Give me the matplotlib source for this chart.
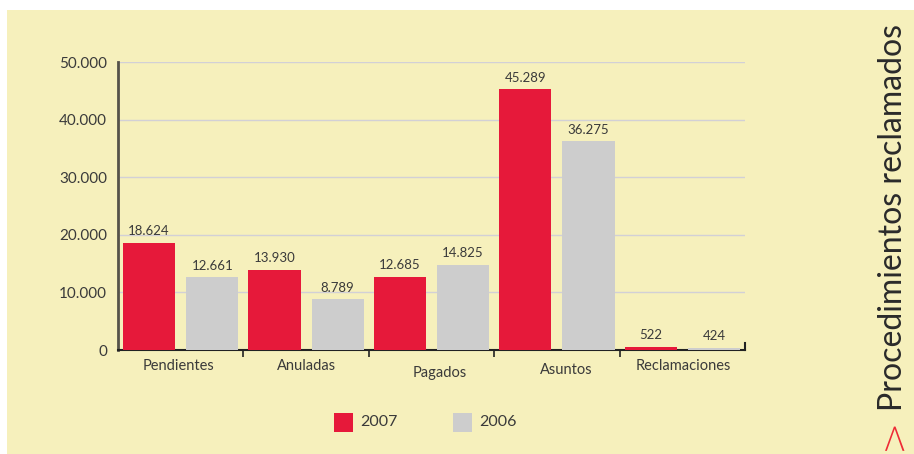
import matplotlib
matplotlib.use("Agg")
import matplotlib.pyplot as plt
from matplotlib.patches import Rectangle
import matplotlib.transforms as mtransforms

categories = ["Pendientes", "Anuladas", "Pagados", "Asuntos", "Reclamaciones"]
values_2007 = [18624, 13930, 12685, 45289, 522]
values_2006 = [12661, 8789, 14825, 36275, 424]
series_labels = ["2007", "2006"]
y_ticks = [0, 10000, 20000, 30000, 40000, 50000]
y_tick_labels = ["0", "10.000", "20.000", "30.000", "40.000", "50.000"]

BG = "#F6F0BC"
RED = "#E6193A"
GREY = "#CDCDCD"
TXT = "#3a3a3a"
FONT = "Lato"

def fmt(v):
    return f"{v:,}".replace(",", ".")

fig = plt.figure(figsize=(9.14, 4.54), dpi=100)
fig.patch.set_facecolor("white")
fig.patches.append(Rectangle((7/914, 0), 1 - 7/914, 1 - 10/454,
                             transform=fig.transFigure, facecolor=BG,
                             edgecolor="none", zorder=-10))

ax = fig.add_axes([118/914, (454-350)/454, 627/914, 288/454])
ax.set_facecolor("none")
ax.set_xlim(0, 5)
ax.set_ylim(0, 50000)

w = 0.416
x_red = [i + 0.248 for i in range(len(categories))]
x_grey = [i + 0.752 for i in range(len(categories))]
ax.bar(x_red, values_2007, width=w, color=RED, zorder=3)
ax.bar(x_grey, values_2006, width=w, color=GREY, zorder=3)

for x, v in zip(x_red, values_2007):
    ax.annotate(fmt(v), (x, v), xytext=(0, 4), textcoords="offset points",
                ha="center", va="bottom", fontsize=9.5, color=TXT, family=FONT)
for x, v in zip(x_grey, values_2006):
    ax.annotate(fmt(v), (x, v), xytext=(0, 4), textcoords="offset points",
                ha="center", va="bottom", fontsize=9.5, color=TXT, family=FONT)

# grid
for t in y_ticks[1:]:
    ax.axhline(t, color="#D2D0D6", lw=1, zorder=1)

ax.set_yticks(y_ticks)
ax.set_yticklabels(y_tick_labels, fontsize=11, color=TXT, family=FONT)
ax.tick_params(axis="y", length=0, pad=8)
ax.set_xticks([1, 2, 3, 4])
ax.set_xticklabels([])
ax.tick_params(axis="x", direction="out", length=5, width=1.2, color="#222222")

for s in ["top", "right"]:
    ax.spines[s].set_visible(False)
ax.spines["left"].set_color("#55524a")
ax.spines["left"].set_linewidth(2)
ax.spines["bottom"].set_color("#222222")
ax.spines["bottom"].set_linewidth(1.5)
# end tick pointing up
ax.plot([5, 5], [0, 1300], color="#222222", lw=1.5, clip_on=False, zorder=4)

# category labels (slightly staggered as in reference)
label_dx = [-2, 0, 8, 9, 1]      # pixels
label_dy = [-9, -9, -16, -13, -9]  # pixels
for i, (c, dx, dy) in enumerate(zip(categories, label_dx, label_dy)):
    tr = mtransforms.offset_copy(ax.transData, fig=fig, x=dx, y=dy, units="dots")
    ax.text(i + 0.5, 0, c, transform=tr, ha="center", va="top",
            fontsize=10.5, color=TXT, family=FONT)

# legend
fig.patches.append(Rectangle((334/914, 1 - 432/454), 19/914, 19/454,
                             transform=fig.transFigure, facecolor=RED, edgecolor="none"))
fig.patches.append(Rectangle((453/914, 1 - 432/454), 19/914, 19/454,
                             transform=fig.transFigure, facecolor=GREY, edgecolor="none"))
fig.text(360/914, 1 - 422/454, series_labels[0], ha="left", va="center",
         fontsize=11.5, color=TXT, family=FONT)
fig.text(479/914, 1 - 422/454, series_labels[1], ha="left", va="center",
         fontsize=11.5, color=TXT, family=FONT)

# side title
fig.text(893/914, 1 - 411/454, "Procedimientos reclamados", rotation=90,
         ha="center", va="bottom", fontsize=23, color="#2a2a2a", family=FONT)
fig.text(893/914, 1 - 434/454, ">", rotation=90, ha="center", va="center",
         fontsize=28, color="#EE2A35", family="DejaVu Sans", fontweight="light")

fig.savefig("out.png", dpi=100, facecolor=fig.get_facecolor())
